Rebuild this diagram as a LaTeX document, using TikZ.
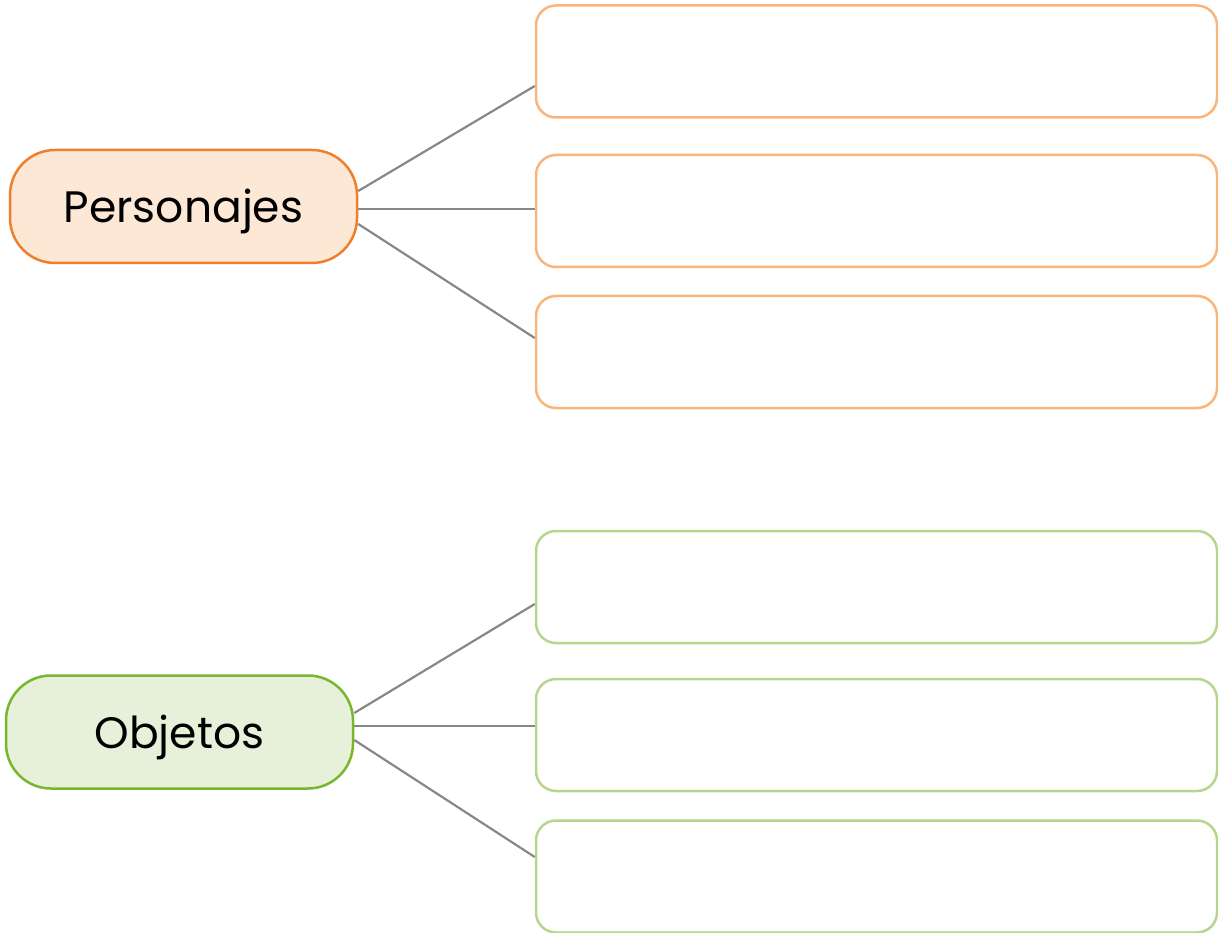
\documentclass[tikz,border=0pt]{standalone}
\usepackage{fontspec}
\setmainfont{Poppins}
\usetikzlibrary{positioning}
\definecolor{orgB}{HTML}{EE7F2D}
\definecolor{orgF}{HTML}{FDE8D6}
\definecolor{orgL}{HTML}{F9B57C}
\definecolor{grnB}{HTML}{78B62E}
\definecolor{grnF}{HTML}{E7F1D9}
\definecolor{grnL}{HTML}{B6D68E}
\definecolor{conn}{HTML}{888888}
\tikzset{
  x=1pt,y=1pt,
  mainbox/.style={draw, line width=2.5pt, rounded corners=45pt, minimum width=347pt, minimum height=113pt, inner sep=0pt, text height=32pt, text depth=0pt, font=\fontsize{44}{46}\selectfont},
  leafbox/.style={draw, line width=2.5pt, rounded corners=20pt, minimum width=681pt, minimum height=112pt, inner sep=0pt, fill=white},
  link/.style={draw=conn, line width=2.2pt},
}
\begin{document}
\begin{tikzpicture}
\useasboundingbox (0,0) rectangle (1218,-933);
% orange group
\node[mainbox, draw=orgB, fill=orgF] (p) at (183.5,-206.5) {Personajes};
\node[leafbox, draw=orgL] (p1) at (876.5,-61.5) {};
\node[leafbox, draw=orgL] (p2) at (876.5,-211) {};
\node[leafbox, draw=orgL] (p3) at (876.5,-352) {};
% green group
\node[mainbox, draw=grnB, fill=grnF] (o) at (179.5,-732) {Objetos};
\node[leafbox, draw=grnL] (o1) at (876.5,-587) {};
\node[leafbox, draw=grnL] (o2) at (876.5,-735) {};
\node[leafbox, draw=grnL] (o3) at (876.5,-876.5) {};
% connectors
\draw[link] ([yshift=15.5pt]p.east) -- ([yshift=-24.5pt]p1.west);
\draw[link] ([yshift=-2.5pt]p.east) -- ([yshift=2pt]p2.west);
\draw[link] ([yshift=-17.5pt]p.east) -- ([yshift=14pt]p3.west);
\draw[link] ([yshift=19pt]o.east) -- ([yshift=-17pt]o1.west);
\draw[link] ([yshift=6pt]o.east) -- ([yshift=9pt]o2.west);
\draw[link] ([yshift=-8pt]o.east) -- ([yshift=19.5pt]o3.west);
\end{tikzpicture}
\end{document}
